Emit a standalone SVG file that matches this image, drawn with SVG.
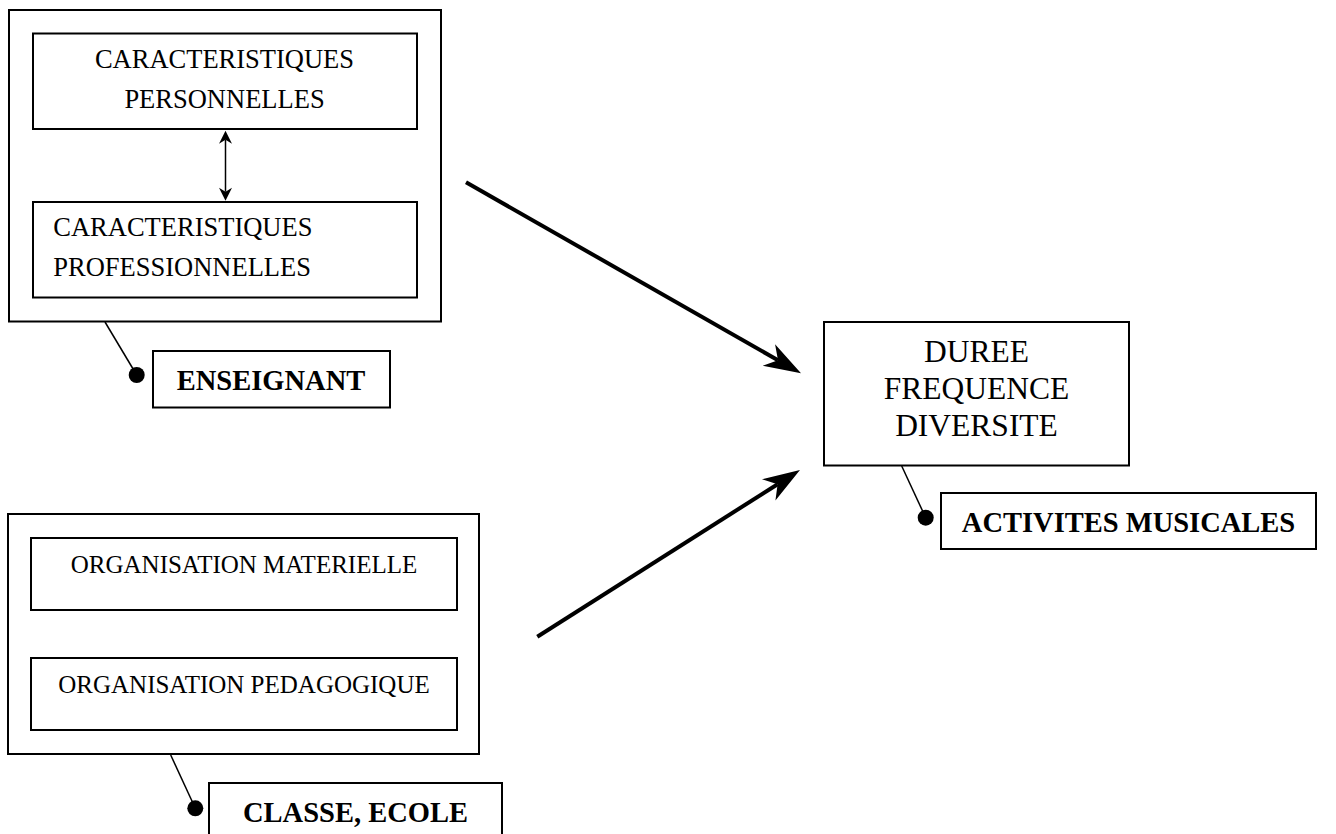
<svg xmlns="http://www.w3.org/2000/svg" width="1336" height="834" viewBox="0 0 1336 834">
<style>
.box{fill:#fff;stroke:#000;stroke-width:2}
.t{font-family:"Liberation Serif","Times New Roman",serif;fill:#000}
.r26{font-size:26.5px}
.r25{font-size:25px}
.r31{font-size:31.5px}
.b{font-size:28.5px;font-weight:bold}
.big{stroke:#000;stroke-width:4;fill:none}
.thin{stroke:#000;stroke-width:1.5;fill:none}
</style>
<defs>
<marker id="bigHead" markerUnits="userSpaceOnUse" viewBox="-38 -14 40 28" markerWidth="40" markerHeight="28" refX="-26.5" refY="0" orient="auto">
<path d="M0,0 L-37,-12.5 L-26.5,0 L-37,12.5 Z" fill="#000"/>
</marker>
<marker id="smallHead" markerUnits="userSpaceOnUse" viewBox="-14 -8 16 16" markerWidth="16" markerHeight="16" refX="-9" refY="0" orient="auto-start-reverse">
<path d="M0,0 L-13,-6.5 L-9,0 L-13,6.5 Z" fill="#000"/>
</marker>
</defs>
<g id="enseignant-group">
<rect class="box" x="9" y="10" width="432" height="311.5"/>
<g id="car-perso">
<rect class="box" x="33" y="33.5" width="384" height="95.5"/>
<text class="t r26" x="224.5" y="67.7" text-anchor="middle">CARACTERISTIQUES</text>
<text class="t r26" x="224.5" y="108.3" text-anchor="middle">PERSONNELLES</text>
</g>
<g id="car-pro">
<rect class="box" x="33" y="202" width="384" height="95.5"/>
<text class="t r26" x="53.3" y="235.7">CARACTERISTIQUES</text>
<text class="t r26" x="53.3" y="276">PROFESSIONNELLES</text>
</g>
</g>
<g id="enseignant-label">
<rect class="box" x="153" y="351" width="237" height="56.5"/>
<text class="t b" x="271" y="390" text-anchor="middle">ENSEIGNANT</text>
</g>
<g id="classe-group">
<rect class="box" x="8" y="514" width="471" height="240"/>
<g id="org-mat">
<rect class="box" x="31" y="538" width="426" height="72"/>
<text class="t r25" x="244" y="572.7" text-anchor="middle">ORGANISATION MATERIELLE</text>
</g>
<g id="org-peda">
<rect class="box" x="31" y="658" width="426" height="72"/>
<text class="t r25" x="244" y="692.7" text-anchor="middle">ORGANISATION PEDAGOGIQUE</text>
</g>
</g>
<g id="classe-label">
<rect class="box" x="209" y="783" width="293" height="60"/>
<text class="t b" x="355.5" y="821.7" text-anchor="middle">CLASSE, ECOLE</text>
</g>
<g id="activites">
<rect class="box" x="824" y="322" width="305" height="143.5"/>
<text class="t r31" x="976.5" y="361.7" text-anchor="middle">DUREE</text>
<text class="t r31" x="976.5" y="398.5" text-anchor="middle">FREQUENCE</text>
<text class="t r31" x="976.5" y="435.7" text-anchor="middle">DIVERSITE</text>
</g>
<g id="activites-label">
<rect class="box" x="941" y="493" width="375" height="56"/>
<text class="t b" x="1128.5" y="531.7" text-anchor="middle">ACTIVITES MUSICALES</text>
</g>
<g id="connectors">
<line class="thin" x1="225.5" y1="139.7" x2="225.5" y2="191.7" marker-start="url(#smallHead)" marker-end="url(#smallHead)"/>
<line class="big" x1="466" y1="182.3" x2="778" y2="360.2" marker-end="url(#bigHead)"/>
<line class="big" x1="537.3" y1="636.7" x2="777.6" y2="484.2" marker-end="url(#bigHead)"/>
<line class="thin" x1="105" y1="322" x2="136.7" y2="375"/>
<circle cx="136.7" cy="375" r="8"/>
<line class="thin" x1="170.7" y1="755" x2="195.3" y2="808.3"/>
<circle cx="195.3" cy="808.3" r="8"/>
<line class="thin" x1="901.7" y1="466" x2="925.7" y2="517.7"/>
<circle cx="925.7" cy="517.7" r="8"/>
</g>
</svg>
